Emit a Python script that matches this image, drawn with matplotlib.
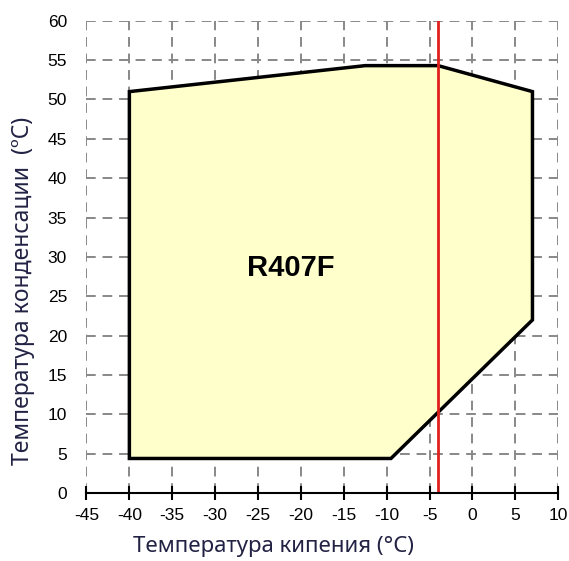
import matplotlib.pyplot as plt

# границы рабочей области (температура кипения, температура конденсации)
t_evap = [-40, -40, -12.5, -4, 7, 7, -9.5]
t_cond = [4.4, 51, 54.3, 54.3, 51, 22, 4.4]
red_x = -4
label = "R407F"

x_ticks = list(range(-45, 11, 5))
y_ticks = list(range(0, 61, 5))

plt.rcParams["font.family"] = ["Liberation Sans", "DejaVu Sans"]
plt.rcParams["axes.unicode_minus"] = False

fig = plt.figure(figsize=(5.69, 5.61), dpi=100)
ax = fig.add_axes([0.152, 0.121, 0.829, 0.842])

ax.fill(t_evap, t_cond, facecolor="#ffffcc", edgecolor="black", linewidth=2.5, zorder=3)
ax.plot([red_x, red_x], [0, 60], color="#e0201c", linewidth=2, zorder=4)
ax.text(-21.2, 28.6, label, fontsize=21, fontweight="bold", ha="center", va="center", zorder=5)

ax.set_xlim(-45, 10)
ax.set_ylim(0, 60)
ax.set_xticks(x_ticks)
ax.set_yticks(y_ticks)
ax.grid(True, color="#888888", linestyle=(0, (5, 3.5)), linewidth=1.4, zorder=1)

for side in ["top", "right", "left"]:
    ax.spines[side].set_visible(False)
ax.spines["bottom"].set_linewidth(1.5)
ax.spines["bottom"].set_zorder(6)
ax.tick_params(axis="x", direction="inout", length=10, width=1.5, labelsize=12.5, pad=6)
ax.tick_params(axis="y", length=0, labelsize=12.5, pad=14)

lab_font = ["Noto Sans", "DejaVu Sans"]
ax.set_xlabel("Температура кипения (°C)", fontsize=16, family=lab_font, color="#222244")
ax.set_ylabel("Температура конденсации  (ºC)", fontsize=16.5, family=lab_font, color="#222244")
ax.xaxis.set_label_coords(0.397, -0.09)
ax.yaxis.set_label_coords(-0.11, 0.428)

fig.savefig("out.png", dpi=100)
